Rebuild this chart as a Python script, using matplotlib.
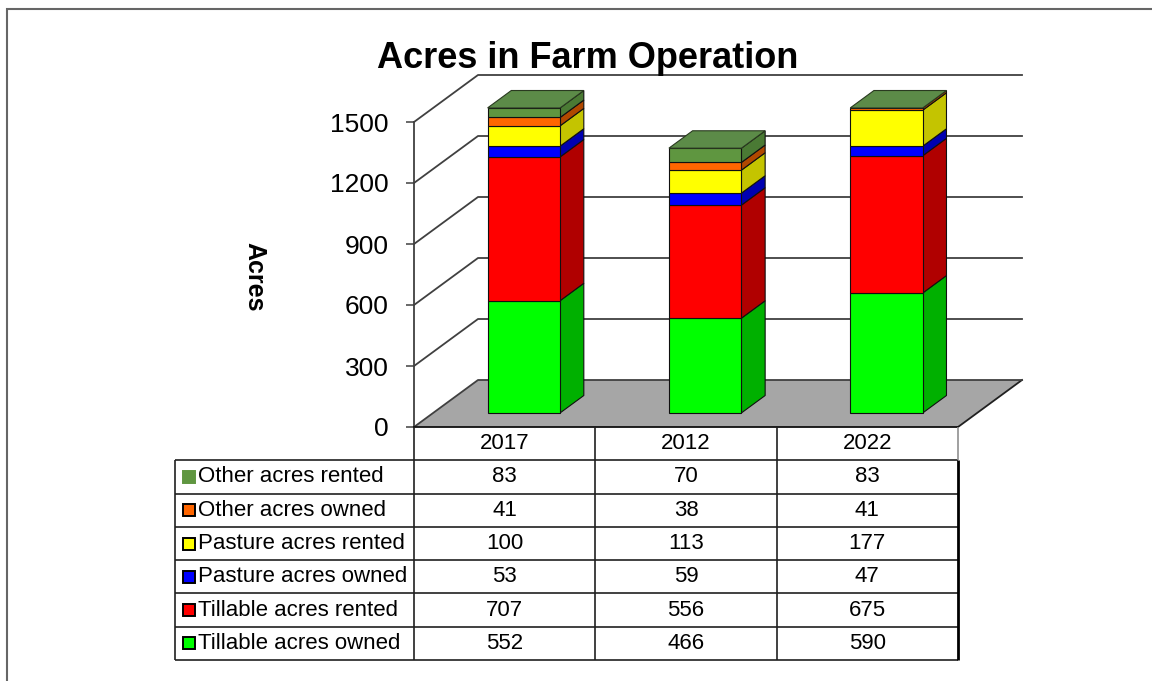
import matplotlib
matplotlib.use("Agg")
import matplotlib.pyplot as plt
from matplotlib.patches import Polygon, Rectangle

plt.rcParams['font.family'] = ['Liberation Sans', 'DejaVu Sans']

# data
years = ['2017', '2012', '2022']
series_names = ['Tillable acres owned', 'Tillable acres rented',
                'Pasture acres owned', 'Pasture acres rented',
                'Other acres owned', 'Other acres rented']
tillable_owned = [552, 466, 590]
tillable_rented = [707, 556, 675]
pasture_owned = [53, 59, 47]
pasture_rented = [100, 113, 177]
other_owned = [41, 38, 41]
other_rented = [83, 70, 83]
y_ticks = [0, 300, 600, 900, 1200, 1500]
y_max = 1500

values = [tillable_owned, tillable_rented, pasture_owned,
          pasture_rented, other_owned, other_rented]
front_colors = ['#00ff00', '#ff0000', '#0000ff', '#ffff00', '#ff6600', '#5f9640']
side_colors = ['#00b000', '#b00000', '#0000b0', '#c4c400', '#b04800', '#4a7a34']
top_color = '#5c8b48'

W, H = 1152, 681
fig = plt.figure(figsize=(W / 100, H / 100), dpi=100)


def fx(px):
    return px / W


def fy(py):
    return 1 - py / H


# front plane of the 3D box
ax = fig.add_axes([fx(414), fy(427), (958 - 414) / W, (427 - 122) / H])
ax.set_xlim(0, len(years))
ax.set_ylim(0, y_max)

# depth direction (front -> back wall) in data units
cat_px = (958 - 414) / len(years)
DX = 64 / cat_px
DY = 47 / ((427 - 122) / y_max)


def proj(x, y, d):
    return (x + d * DX, y + d * DY)


n = len(years)

# floor
ax.add_patch(Polygon([proj(0, 0, 0), proj(n, 0, 0), proj(n, 0, 1), proj(0, 0, 1)],
                     closed=True, fc='#a6a6a6', ec='none', zorder=1, clip_on=False))
fr = [proj(n, 0, 0), proj(n, 0, 1)]
ax.plot([fr[0][0], fr[1][0]], [fr[0][1], fr[1][1]], color='#202020', lw=1.3,
        zorder=2, clip_on=False)

# side wall diagonals + back wall gridlines
for v in y_ticks:
    pts = [proj(0, v, 0), proj(0, v, 1), proj(n, v, 1)]
    ax.plot([p[0] for p in pts], [p[1] for p in pts], color='#404040', lw=1.3,
            zorder=2, clip_on=False)

# stacked 3D bars, clipped at the axis max like Excel does
w0, w1 = 0.3, 0.7
d0, d1 = 0.3, 0.67
for i in range(n):
    base = 0
    for k, vals in enumerate(values):
        lo = min(base, y_max)
        hi = min(base + vals[i], y_max)
        base += vals[i]
        if hi <= lo:
            continue
        front = [proj(i + w0, lo, d0), proj(i + w1, lo, d0),
                 proj(i + w1, hi, d0), proj(i + w0, hi, d0)]
        side = [proj(i + w1, lo, d0), proj(i + w1, lo, d1),
                proj(i + w1, hi, d1), proj(i + w1, hi, d0)]
        ax.add_patch(Polygon(side, closed=True, fc=side_colors[k], ec='#101010',
                             lw=0.8, zorder=3, clip_on=False))
        ax.add_patch(Polygon(front, closed=True, fc=front_colors[k], ec='#101010',
                             lw=0.8, zorder=3, clip_on=False))
    top_y = min(base, y_max)
    top = [proj(i + w0, top_y, d0), proj(i + w1, top_y, d0),
           proj(i + w1, top_y, d1), proj(i + w0, top_y, d1)]
    ax.add_patch(Polygon(top, closed=True, fc=top_color, ec='#2a3a20',
                         lw=0.8, zorder=4, clip_on=False))

ax.set_yticks(y_ticks)
ax.set_xticks([])
ax.tick_params(axis='y', length=6, width=1.1, pad=12, labelsize=19, color='#404040')
for s in ['top', 'right']:
    ax.spines[s].set_visible(False)
ax.spines['left'].set_color('#404040')
ax.spines['left'].set_linewidth(1.3)
ax.spines['bottom'].set_color('#101010')
ax.spines['bottom'].set_linewidth(1.3)
ax.patch.set_visible(False)

fig.text(fx(588), fy(58), 'Acres in Farm Operation', fontsize=26,
         fontweight='bold', ha='center', va='center')
fig.text(fx(254), fy(277), 'Acres', rotation=270, fontsize=18,
         fontweight='bold', ha='center', va='center')

# data table
tab = fig.add_axes([fx(175), fy(660), (958 - 175) / W, (660 - 427) / H])
label_w = (414 - 175) / cat_px
tab.set_xlim(-label_w, n)
tab.set_ylim(len(series_names) + 1, 0)
tab.axis('off')

for i, yr in enumerate(years):
    tab.text(i + 0.5, 0.5, yr, ha='center', va='center', fontsize=16)

for r, k in enumerate(reversed(range(len(series_names)))):
    yc = r + 1.5
    edge = front_colors[k] if k == len(series_names) - 1 else 'black'
    tab.plot(-label_w + 14 / cat_px, yc, marker='s', ms=8.5, mfc=front_colors[k],
             mec=edge, mew=1.4, clip_on=False)
    tab.text(-label_w + 23 / cat_px, yc, series_names[k], ha='left', va='center',
             fontsize=16)
    for i in range(n):
        tab.text(i + 0.5, yc, str(values[k][i]), ha='center', va='center', fontsize=16)

rows = len(series_names) + 1
tab.hlines(range(1, rows + 1), -label_w, n, color='#202020', lw=1.2, clip_on=False)
tab.vlines([-label_w], 1, rows, color='#202020', lw=1.2, clip_on=False)
tab.vlines([0, 1, 2], 0, rows, color='#202020', lw=1.2, clip_on=False)
tab.vlines([n], 0, 1, color='#909090', lw=1.2, clip_on=False)
tab.vlines([n], 1, rows, color='#000000', lw=2, clip_on=False)

# outer chart-area frame
fig.add_artist(Rectangle((fx(7), -0.05), 1.2, fy(9) + 0.05, transform=fig.transFigure,
                         fill=False, ec='#666666', lw=1.5))

fig.savefig('out.png', dpi=100)
